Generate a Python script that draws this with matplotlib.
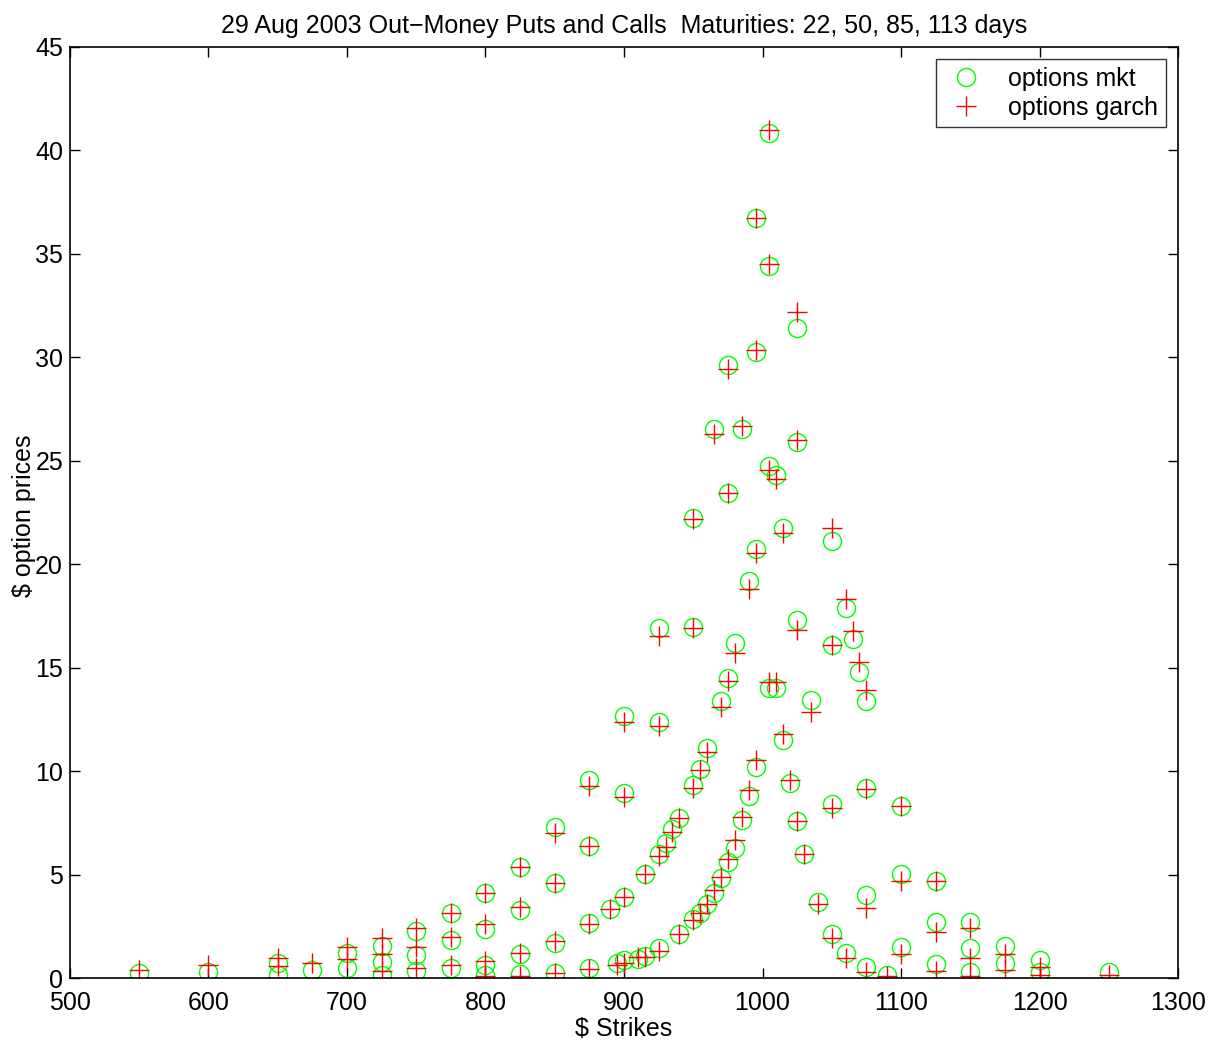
import numpy as np
import matplotlib
matplotlib.use('Agg')
import matplotlib.pyplot as plt

# strikes, market prices and garch model prices (all maturities together)
strikes = [
    550, 600, 650, 650, 675, 700, 700, 725, 725, 725,
    750, 750, 750, 775, 775, 775, 800, 800, 800, 800,
    825, 825, 825, 825, 850, 850, 850, 850, 875, 875,
    875, 875, 890, 895, 900, 900, 900, 900, 910, 915,
    915, 925, 925, 925, 925, 930, 935, 940, 940, 950,
    950, 950, 950, 955, 955, 960, 960, 965, 965, 970,
    970, 975, 975, 975, 975, 980, 980, 985, 985, 990,
    990, 995, 995, 995, 995, 1005, 1005, 1005, 1005, 1010,
    1010, 1015, 1015, 1020, 1025, 1025, 1025, 1025, 1030, 1035,
    1040, 1050, 1050, 1050, 1050, 1060, 1060, 1065, 1070, 1075,
    1075, 1075, 1075, 1090, 1100, 1100, 1100, 1125, 1125, 1125,
    1150, 1150, 1150, 1175, 1175, 1200, 1200, 1250,
]
mkt_prices = [
    0.25, 0.30, 0.71, 0.15, 0.39, 1.19, 0.50, 1.56, 0.76, 0.15,
    2.29, 1.13, 0.34, 3.13, 1.84, 0.47, 4.09, 2.35, 0.63, 0.15,
    5.38, 3.29, 1.16, 0.19, 7.31, 4.61, 1.71, 0.26, 9.57, 6.40,
    2.64, 0.47, 3.32, 0.74, 12.68, 8.96, 3.93, 0.87, 0.90, 5.03,
    1.06, 16.90, 12.39, 5.99, 1.43, 6.51, 7.19, 7.72, 2.11, 22.22,
    16.98, 9.33, 2.84, 10.10, 3.13, 11.10, 3.58, 26.53, 4.12, 13.40,
    4.82, 29.63, 23.42, 14.50, 5.60, 16.18, 6.27, 26.53, 7.62, 19.19,
    8.80, 36.75, 30.24, 20.72, 10.21, 40.82, 34.41, 24.75, 14.00, 24.31,
    14.00, 21.73, 11.50, 9.41, 31.42, 25.92, 17.30, 7.60, 5.98, 13.42,
    3.69, 21.12, 16.10, 8.39, 2.13, 17.90, 1.22, 16.37, 14.78, 13.40,
    9.17, 4.01, 0.55, 0.15, 8.30, 5.01, 1.51, 4.69, 2.69, 0.68,
    2.69, 1.43, 0.31, 1.55, 0.71, 0.87, 0.31, 0.29,
]
garch_prices = [
    0.40, 0.65, 0.95, 0.60, 0.74, 1.51, 0.92, 1.92, 1.16, 0.35,
    2.43, 1.51, 0.47, 3.13, 1.97, 0.63, 4.09, 2.61, 0.84, 0.10,
    5.38, 3.42, 1.22, 0.12, 6.99, 4.61, 1.80, 0.23, 9.30, 6.40,
    2.61, 0.46, 3.32, 0.63, 12.36, 8.76, 3.93, 0.71, 1.03, 5.03,
    1.00, 16.54, 12.18, 5.90, 1.32, 6.35, 7.08, 7.72, 2.11, 22.17,
    16.90, 9.17, 2.80, 10.05, 3.13, 10.92, 3.58, 26.29, 4.25, 13.11,
    4.90, 29.42, 23.42, 14.37, 5.74, 15.70, 6.67, 26.70, 7.78, 18.80,
    9.08, 36.75, 30.35, 20.56, 10.56, 40.99, 34.51, 24.55, 14.32, 24.10,
    14.32, 21.49, 11.79, 9.57, 32.20, 26.00, 16.82, 7.60, 5.98, 12.84,
    3.56, 21.77, 16.10, 8.20, 1.92, 18.32, 0.98, 16.76, 15.29, 13.90,
    9.12, 3.37, 0.31, 0.10, 8.30, 4.70, 1.14, 4.69, 2.24, 0.34,
    2.40, 0.98, 0.10, 1.16, 0.39, 0.55, 0.15, 0.15,
]

plt.rcParams['font.family'] = ['Liberation Sans', 'DejaVu Sans']
FS = 18

fig = plt.figure(figsize=(12.19, 10.44), dpi=100)
ax = fig.add_axes([0.0574, 0.0632, 0.9090, 0.8918])

ax.plot(strikes, mkt_prices, 'o', mfc='none', mec=(0, 1, 0), ms=13, mew=1.0,
        label='options mkt')
ax.plot(strikes, garch_prices, '+', color=(1, 0, 0), ms=14, mew=1.0,
        label='options garch')

ax.set_xlim(500, 1300)
ax.set_ylim(0, 45)
ax.set_xticks(np.arange(500, 1301, 100))
ax.set_yticks(np.arange(0, 46, 5))
ax.tick_params(direction='in', top=True, right=True, length=7, width=1,
               labelsize=FS)
ax.tick_params(axis='x', pad=9)
ax.tick_params(axis='y', pad=5)
for sp in ax.spines.values():
    sp.set_linewidth(1.2)

ax.set_title('29 Aug 2003 Out\u2212Money Puts and Calls  Maturities: 22, 50, 85, 113 days',
             fontsize=FS, pad=10)
ax.set_xlabel(r'\$ Strikes', fontsize=FS, labelpad=2)
ax.set_ylabel(r'\$ option prices', fontsize=FS)
ax.yaxis.set_label_coords(-0.031, 0.497)

leg = ax.legend(loc='upper right', fontsize=FS, frameon=True, fancybox=False,
                borderaxespad=0.5, handletextpad=0.8, borderpad=0.3,
                labelspacing=0.2, handlelength=1.8)
leg.get_frame().set_edgecolor('black')
leg.get_frame().set_linewidth(1.0)

fig.savefig('out.png', dpi=100)
